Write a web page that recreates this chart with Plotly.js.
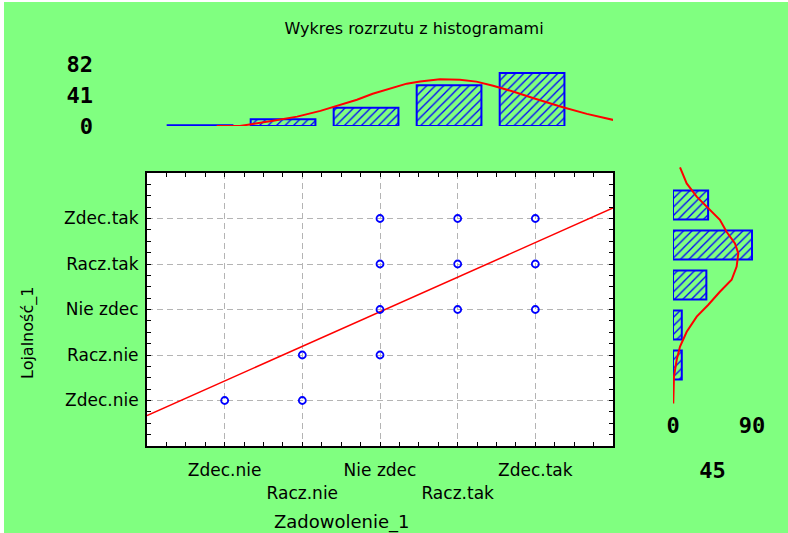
<!DOCTYPE html>
<html>
<head>
<meta charset="utf-8">
<script src="https://cdn.plot.ly/plotly-3.0.1.min.js"></script>
<style>
  html, body { margin: 0; padding: 0; background: #ffffff; }
  #chart { width: 788px; height: 533px; }
</style>
</head>
<body>
<div id="chart"></div>
<script>
// ---- data ----
const categories = ['Zdec.nie', 'Racz.nie', 'Nie zdec', 'Racz.tak', 'Zdec.tak'];
const categoryCodes = [1, 2, 3, 4, 5];

// scatter points (Zadowolenie_1, Lojalność_1)
const scatterX = [1, 2, 2, 3, 3, 3, 3, 4, 4, 4, 5, 5, 5];
const scatterY = [1, 1, 2, 2, 3, 4, 5, 3, 4, 5, 3, 4, 5];

// regression line end points
const regLineX = [0, 6];
const regLineY = [0.67, 5.23];

// top histogram (Zadowolenie_1) counts
const topCounts = [1, 9, 24, 54, 70];
const topTickVals = [0, 41, 82];
// fitted curve over the top histogram
const topCurveX = [1.2, 1.48, 1.88, 2.17, 2.45, 2.65, 2.89, 3.08, 3.33, 3.49, 3.65, 3.89, 4.13, 4.33, 4.53, 4.77, 5.01, 5.34, 5.66, 5.98];
const topCurveY = [0, 0, 7, 12.4, 20, 26.7, 34.7, 42.7, 50.7, 56, 59, 61.7, 61.3, 58.7, 53.3, 45.7, 37, 25.7, 16, 8];

// right histogram (Lojalność_1) counts
const rightCounts = [10, 10, 38, 90, 40];
const rightTickVals = [0, 90];
const rightTickValsLow = [45];
// fitted curve beside the right histogram
const rightCurveX = [8, 15.6, 27, 42, 53.4, 61, 70.6, 74.4, 72.5, 66.8, 53.4, 40, 27, 15.6, 8, 4.2, 1.1, 0.3];
const rightCurveY = [5.94, 5.54, 5.21, 4.88, 4.63, 4.33, 4.04, 3.79, 3.46, 3.13, 2.83, 2.5, 2.21, 1.83, 1.46, 1.13, 0.71, 0.04];

const titleText = 'Wykres rozrzutu z histogramami';
const xTitle = 'Zadowolenie_1';
const yTitle = 'Lojalność_1';

// ---- layout helpers (pixel -> paper) ----
const W = 788, H = 533;
const px = v => v / W;
const py = v => (H - v) / H;

const GREEN = '#80ff80';
const tickFont = { family: 'DejaVu Sans', size: 17, color: '#000000' };
const numFont = { family: 'DejaVu Sans Mono', size: 22, color: '#000000', weight: 'bold' };

const hatch = { shape: '/', fgcolor: '#0000ff', size: 6, solidity: 0.22 };

const traces = [
  {
    type: 'scatter', mode: 'lines', x: regLineX, y: regLineY,
    xaxis: 'x', yaxis: 'y',
    line: { color: '#ff0000', width: 1.5 }, hoverinfo: 'skip', showlegend: false
  },
  {
    type: 'scatter', mode: 'markers', x: scatterX, y: scatterY,
    xaxis: 'x', yaxis: 'y',
    marker: { symbol: 'circle-open', color: '#0000ff', size: 7, line: { width: 1.8, color: '#0000ff' } },
    showlegend: false
  },
  {
    type: 'bar', x: categoryCodes, y: topCounts, xaxis: 'x2', yaxis: 'y2',
    width: 0.78,
    marker: { color: GREEN, pattern: hatch, line: { color: '#0000ff', width: 2 } },
    showlegend: false
  },
  {
    type: 'scatter', mode: 'lines', x: topCurveX, y: topCurveY, xaxis: 'x2', yaxis: 'y2',
    line: { color: '#ff0000', width: 2 }, showlegend: false
  },
  {
    type: 'bar', orientation: 'h', y: categoryCodes, x: rightCounts, xaxis: 'x3', yaxis: 'y3',
    width: 0.72,
    marker: { color: GREEN, pattern: hatch, line: { color: '#0000ff', width: 2 } },
    showlegend: false
  },
  {
    type: 'scatter', mode: 'lines', x: rightCurveX, y: rightCurveY, xaxis: 'x3', yaxis: 'y3',
    line: { color: '#ff0000', width: 2 }, showlegend: false
  },
  {
    // carries the staggered lower tick of the right histogram axis
    type: 'scatter', mode: 'markers', x: [0], y: [0], xaxis: 'x4', yaxis: 'y3',
    marker: { opacity: 0 }, hoverinfo: 'skip', showlegend: false
  }
];

const mainTickText = categories.map((c, i) => (i % 2 === 1 ? '<br>' + c : c));

const layout = {
  width: W, height: H,
  margin: { l: 0, r: 0, t: 0, b: 0, pad: 0 },
  paper_bgcolor: GREEN,
  plot_bgcolor: GREEN,
  showlegend: false,
  title: {
    text: titleText, x: px(414), xref: 'paper', xanchor: 'center',
    y: py(28), yref: 'paper', yanchor: 'middle',
    font: { family: 'DejaVu Sans', size: 16, color: '#000000' }
  },
  xaxis: {
    domain: [px(147), px(613)], range: [0, 6], anchor: 'y', automargin: false,
    tickvals: categoryCodes, ticktext: mainTickText, tickfont: tickFont,
    ticks: 'inside', ticklen: 4, tickcolor: '#000000', tickwidth: 1,
    minor: { tick0: 0, dtick: 0.25, ticks: 'inside', ticklen: 4, tickcolor: '#000000', showgrid: false },
    showline: true, linecolor: '#000000', linewidth: 2, mirror: 'allticks',
    showgrid: true, gridcolor: '#b4b4b4', gridwidth: 1, griddash: '6px,4px',
    zeroline: false, ticklabelstandoff: 8
  },
  yaxis: {
    domain: [py(446), py(173)], range: [0, 6], anchor: 'x', automargin: false,
    tickvals: categoryCodes, ticktext: categories, tickfont: tickFont,
    ticks: 'inside', ticklen: 4, tickcolor: '#000000', tickwidth: 1,
    minor: { tick0: 0, dtick: 0.25, ticks: 'inside', ticklen: 4, tickcolor: '#000000', showgrid: false },
    showline: true, linecolor: '#000000', linewidth: 2, mirror: 'allticks',
    showgrid: true, gridcolor: '#b4b4b4', gridwidth: 1, griddash: '6px,4px',
    zeroline: false, ticklabelstandoff: 3
  },
  xaxis2: {
    domain: [px(147), px(613)], range: [0.361, 5.975], anchor: 'y2',
    visible: false, showgrid: false, zeroline: false
  },
  yaxis2: {
    domain: [py(126), py(60)], range: [0, 87.3], anchor: 'free', position: px(93),
    tickvals: topTickVals, ticktext: topTickVals.map(String), tickfont: numFont,
    ticks: '', showline: false, showgrid: false, zeroline: false, automargin: false
  },
  xaxis3: {
    domain: [px(673), px(770)], range: [0, 110.5], anchor: 'free', position: py(410),
    tickvals: rightTickVals, ticktext: rightTickVals.map(String), tickfont: numFont,
    ticks: '', showline: false, showgrid: false, zeroline: false, automargin: false
  },
  xaxis4: {
    domain: [px(673), px(770)], range: [0, 110.5], anchor: 'free', position: py(455),
    overlaying: 'x3',
    tickvals: rightTickValsLow, ticktext: rightTickValsLow.map(String), tickfont: numFont,
    ticks: '', showline: false, showgrid: false, zeroline: false, automargin: false
  },
  yaxis3: {
    domain: [py(405), py(165)], range: [0, 6], anchor: 'x3',
    visible: false, showgrid: false, zeroline: false
  },
  shapes: [
    { type: 'rect', xref: 'x domain', yref: 'y domain', x0: 0, x1: 1, y0: 0, y1: 1,
      fillcolor: '#ffffff', line: { width: 0 }, layer: 'below' },
    { type: 'rect', xref: 'paper', yref: 'paper', x0: 0, x1: px(4), y0: 0, y1: 1,
      fillcolor: '#ffffff', line: { width: 0 }, layer: 'below' },
    { type: 'rect', xref: 'paper', yref: 'paper', x0: 0, x1: 1, y0: py(2), y1: 1,
      fillcolor: '#ffffff', line: { width: 0 }, layer: 'below' }
  ],
  annotations: [
    { text: xTitle, xref: 'paper', yref: 'paper', x: px(342), y: py(522),
      xanchor: 'center', yanchor: 'middle', showarrow: false,
      font: { family: 'DejaVu Sans', size: 18, color: '#000000' } },
    { text: yTitle, xref: 'paper', yref: 'paper', x: px(28), y: py(333),
      xanchor: 'center', yanchor: 'middle', showarrow: false, textangle: -90,
      font: { family: 'DejaVu Sans', size: 16, color: '#000000' } }
  ]
};

Plotly.newPlot('chart', traces, layout, { displayModeBar: false, staticPlot: true });
</script>
</body>
</html>
